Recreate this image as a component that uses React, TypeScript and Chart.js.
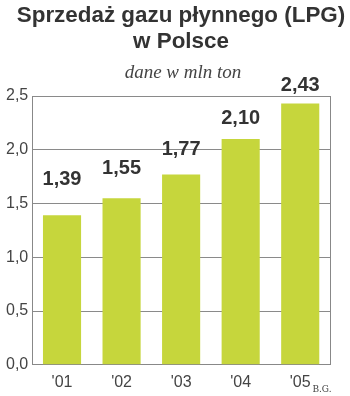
import React, { useEffect, useRef } from "react";
import { Chart, registerables } from "chart.js";

Chart.register(...registerables);

const categories = ["'01", "'02", "'03", "'04", "'05"];
const values = [1.39, 1.55, 1.77, 2.1, 2.43];
const valueLabels = ["1,39", "1,55", "1,77", "2,10", "2,43"];
const titleLines = ["Sprzedaż gazu płynnego (LPG)", "w Polsce"];
const subtitleText = "dane w mln ton";
const sourceText = "B.G.";

const labelOffsets = [36, 30, 25, 21, 18];

const textPlugin = {
  id: "texts",
  afterDatasetsDraw(chart: any) {
    const ctx = chart.ctx;
    const meta = chart.getDatasetMeta(0);
    ctx.save();
    ctx.font = "bold 20px 'Liberation Sans', Arial, sans-serif";
    ctx.fillStyle = "#333333";
    ctx.textAlign = "center";
    ctx.textBaseline = "middle";
    meta.data.forEach((bar: any, i: number) => {
      ctx.fillText(valueLabels[i], bar.x, bar.y - labelOffsets[i]);
    });
    ctx.restore();
  },
  afterDraw(chart: any) {
    const ctx = chart.ctx;
    ctx.save();
    ctx.textAlign = "center";
    ctx.textBaseline = "middle";
    ctx.fillStyle = "#333333";
    ctx.font = "bold 22.4px 'Liberation Sans', Arial, sans-serif";
    ctx.fillText(titleLines[0], 181, 16);
    ctx.fillText(titleLines[1], 181, 42);
    ctx.fillStyle = "#444444";
    ctx.font = "italic 19px 'Liberation Serif', 'DejaVu Serif', serif";
    ctx.fillText(subtitleText, 183, 73);
    ctx.font = "9px 'DejaVu Serif', 'Liberation Serif', serif";
    ctx.fillText(sourceText, 322, 390);
    ctx.restore();
  },
};

export default function App() {
  const ref = useRef<HTMLCanvasElement>(null);
  useEffect(() => {
    document.body.style.margin = "0";
    const chart = new Chart(ref.current!, {
      type: "bar",
      data: {
        labels: categories,
        datasets: [
          {
            data: values,
            backgroundColor: "#c6d63c",
            borderWidth: 0,
            categoryPercentage: 1,
            barPercentage: 0.64,
          },
        ],
      },
      options: {
        animation: false,
        responsive: false,
        layout: { padding: { left: 2, right: 20, top: 96, bottom: -4 } },
        plugins: {
          legend: { display: false },
          tooltip: { enabled: false },
          title: { display: false },
        },
        scales: {
          x: {
            grid: { display: false, drawTicks: false },
            border: { display: true, color: "#888888" },
            ticks: {
              color: "#444444",
              font: { family: "'Liberation Sans', Arial, sans-serif", size: 16 },
              padding: 8,
            },
          },
          y: {
            min: 0,
            max: 2.5,
            grid: { color: "#8a8a8a", drawTicks: false, lineWidth: 1 },
            border: { display: true, color: "#888888" },
            ticks: {
              stepSize: 0.5,
              color: "#444444",
              font: { family: "'Liberation Sans', Arial, sans-serif", size: 16 },
              padding: 4,
              callback: (v: any) => Number(v).toFixed(1).replace(".", ","),
            },
          },
          y2: {
            position: "right",
            min: 0,
            max: 2.5,
            grid: { display: false, drawTicks: false },
            border: { display: true, color: "#888888" },
            ticks: { display: false },
          },
        },
      },
      plugins: [textPlugin],
    });
    return () => chart.destroy();
  }, []);
  return <canvas ref={ref} width={350} height={396} style={{ display: "block" }} />;
}
